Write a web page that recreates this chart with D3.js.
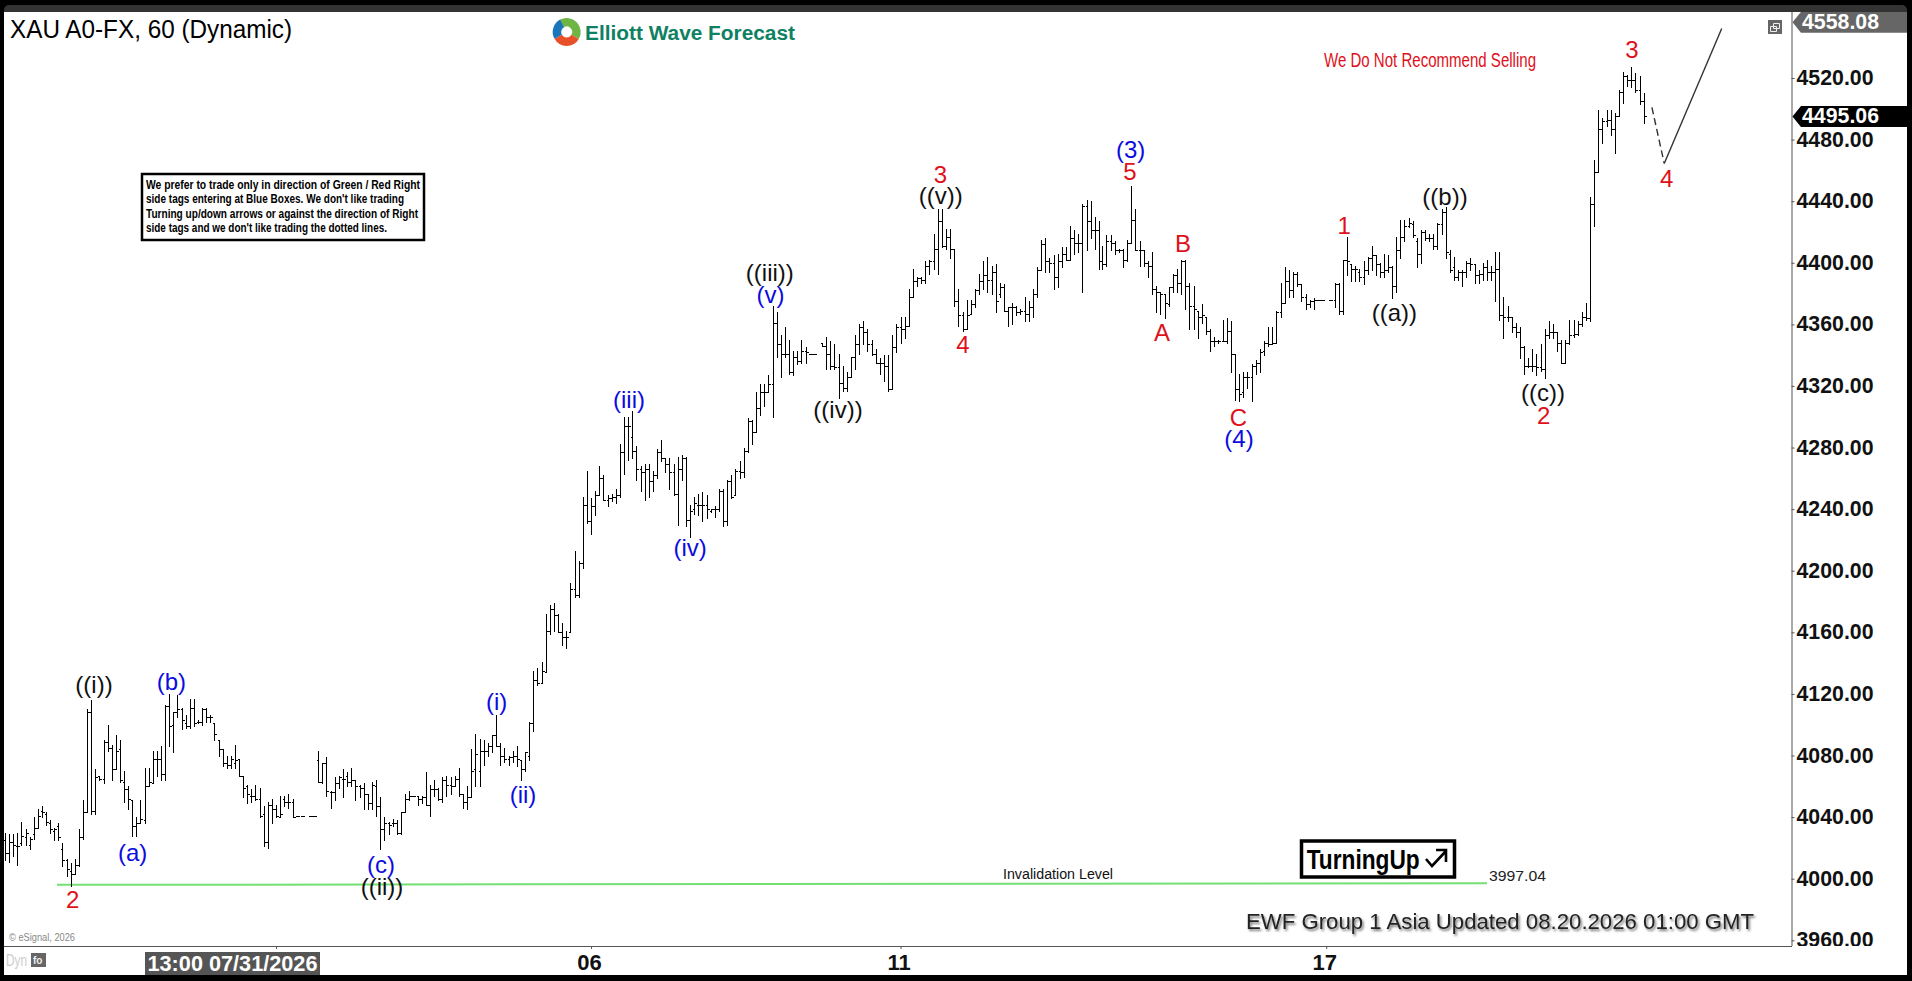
<!DOCTYPE html>
<html><head><meta charset="utf-8">
<script src="https://cdn.jsdelivr.net/npm/d3@7"></script>
<style>html,body{margin:0;padding:0;background:#000;overflow:hidden}svg{display:block}text{font-family:"Liberation Sans",Arial,sans-serif}</style>
</head><body><svg id="c" width="1912" height="981"></svg>
<script>
// hourly OHLC bars [open, high, low, close]; null = no bar printed
const barsJul = [[4025,4030,4012,4017],[4017,4029,4011,4024],[4024,4029,4015,4022],[4021,4030,4009,4021],[4023,4037,4022,4028],[4027,4032,4022,4030],[4022,4027,4019,4026],[4029,4040,4026,4033],[4033,4045,4033,4041],[4044,4047,4040,4043],[4042,4043,4035,4037],[4036,4038,4030,4032],[4031,4033,4025,4032],[4034,4036,4025,4027],[4019,4023,4008,4012],[4012,4013,4002,4006],[4005,4010,3995,4003],[4003,4013,4003,4009],[4009,4032,4008,4027],[4027,4051,4026,4043],[4043,4110,4043,4108],[4108,4116,4042,4044],[4044,4071,4042,4066],[4067,4067,4064,4065],[4065,4090,4062,4089],[4089,4100,4083,4085],[4085,4087,4064,4071],[4071,4093,4071,4083],[4084,4090,4063,4064],[4063,4070,4050,4058],[4058,4060,4045,4052],[4051,4051,4028,4034],[4034,4040,4028,4036],[4036,4051,4037,4039],[4038,4072,4036,4060],[4060,4072,4060,4063],[4062,4083,4062,4078],[4078,4083,4067,4078],[4078,4086,4064,4068],[4068,4113,4064,4112],[4112,4120,4086,4099],[4100,4108,4082,4108],[4108,4119,4105,4110],[4110,4111,4097,4103],[4101,4106,4098,4099],[4099,4117,4098,4111],[4111,4117,4099,4101],[4102,4103,4101,4102],[4102,4111,4100,4110],[4110,4111,4102,4105],[4105,4106,4102,4105],[4101,4101,4090,4094],[4090,4090,4080,4084],[4084,4083,4073,4075],[4075,4080,4072,4074],[4074,4080,4072,4078],[4075,4087,4072,4077],[4078,4078,4067,4067],[4067,4067,4053,4059],[4060,4061,4049,4055],[4054,4058,4050,4054],[4054,4061,4051,4052],[4052,4059,4040,4041],[4042,4047,4021,4024],[4024,4050,4020,4048],[4048,4052,4036,4045],[4045,4048,4040,4041],[4040,4054,4040,4042],[4052,4054,4047,4050],[4050,4055,4046,4050]];
const barsAug1 = [[4050,4052,4040,4040],[4041,4041,4041,4041],[4041,4041,4041,4041],null,[4041,4041,4041,4041],[4041,4041,4041,4041],[4077,4083,4063,4063],[4063,4075,4062,4075],[4075,4079,4054,4057],[4056,4057,4046,4056],[4056,4066,4051,4062],[4062,4067,4059,4066],[4065,4071,4053,4065],[4067,4069,4060,4063],[4063,4072,4060,4064],[4064,4064,4051,4060],[4060,4061,4053,4059],[4059,4062,4045,4055],[4055,4055,4045,4049],[4049,4063,4045,4061],[4060,4064,4041,4047],[4047,4053,4019,4032],[4032,4040,4025,4036],[4036,4037,4029,4035],[4036,4039,4034,4036],[4036,4038,4029,4030],[4030,4043,4029,4043],[4043,4055,4043,4052],[4052,4057,4051,4054],[4054,4054,4054,4054],[4054,4054,4048,4052],[4052,4054,4049,4053],[4053,4069,4048,4048],[4048,4061,4041,4058],[4058,4064,4054,4058],[4058,4059,4051,4052],[4052,4066,4050,4064],[4064,4067,4054,4061],[4061,4066,4055,4060],[4060,4067,4060,4065],[4065,4072,4054,4055],[4055,4055,4046,4050],[4050,4060,4045,4053],[4053,4084,4053,4070],[4071,4094,4060,4081],[4070,4091,4060,4083],[4083,4090,4074,4083],[4083,4088,4080,4086],[4086,4093,4082,4093],[4093,4106,4086,4086],[4086,4088,4074,4080],[4080,4085,4076,4078],[4078,4080,4074,4079],[4079,4083,4076,4080],[4080,4086,4073,4078],[4077,4077,4064,4071],[4071,4082,4070,4082],[4080,4102,4077,4101]];
const barsAug6 = [[4101,4135,4096,4129],[4129,4137,4126,4127],[4127,4141,4127,4135],[4134,4172,4134,4161],[4161,4178,4159,4175],[4175,4179,4161,4171],[4171,4172,4160,4160],[4160,4166,4152,4157],[4157,4161,4150,4157],[4160,4192,4160,4188],[4188,4213,4183,4184],[4184,4206,4183,4205],[4205,4248,4202,4243],[4243,4265,4231,4232],[4232,4247,4224,4242],[4242,4252,4236,4249],[4249,4268,4249,4260],[4260,4262,4246,4246],[4246,4249,4242,4247],[4247,4250,4245,4248],[4248,4253,4244,4249],[4249,4282,4248,4277],[4277,4300,4263,4294],[4294,4300,4272,4294],[4287,4304,4273,4278],[4278,4281,4259,4266],[4266,4268,4252,4264],[4264,4269,4246,4266],[4266,4269,4248,4258],[4258,4265,4252,4262],[4262,4279,4260,4277],[4277,4285,4271,4273],[4273,4273,4264,4269],[4269,4273,4253,4264],[4264,4269,4249,4250],[4250,4274,4230,4266],[4266,4275,4259,4273],[4273,4274,4229,4233],[4233,4243,4222,4239],[4240,4248,4237,4244],[4243,4250,4236,4243],[4243,4251,4232,4243],[4243,4249,4234,4240],[4239,4240,4238,4240],[4240,4242,4235,4240],[4240,4253,4239,4252],[4252,4253,4229,4232],[4232,4259,4230,4258],[4258,4262,4247,4248],[4249,4266,4249,4265],[4265,4271,4260,4264],[4264,4280,4261,4278],[4278,4299,4277,4297],[4297,4298,4282,4290],[4290,4316,4290,4306],[4306,4321,4301,4316],[4316,4321,4307,4316],[4316,4327,4316,4321],[4321,4372,4300,4361],[4361,4368,4339,4347],[4347,4353,4326,4341],[4341,4358,4339,4341],[4341,4350,4328,4329],[4329,4343,4327,4339],[4339,4343,4334,4336],[4336,4350,4335,4343],[4343,4345,4335,4342],[4341,4341,4341,4341],[4341,4341,4341,4341],null];
const barsAug10 = [[4348,4348,4346,4346],[4346,4352,4331,4341],[4341,4349,4331,4333],[4333,4347,4331,4332],[4332,4341,4312,4322],[4322,4333,4317,4319],[4319,4329,4317,4326],[4326,4339,4326,4339],[4339,4353,4331,4347],[4347,4360,4341,4358],[4358,4362,4347,4355],[4355,4357,4343,4347],[4347,4350,4340,4341],[4341,4344,4335,4335],[4335,4338,4328,4335],[4335,4340,4323,4333],[4333,4340,4317,4318],[4318,4353,4318,4345],[4345,4360,4342,4358],[4358,4365,4348,4357],[4357,4365,4351,4359],[4359,4383,4359,4378],[4378,4396,4378,4388],[4388,4391,4385,4390],[4390,4391,4387,4389],[4389,4401,4387,4398],[4398,4402,4393,4401],[4401,4419,4396,4409],[4409,4435,4393,4427],[4427,4435,4410,4411],[4411,4422,4409,4417],[4417,4422,4403,4409],[4409,4409,4372,4375],[4375,4383,4359,4366],[4366,4368,4356,4357],[4357,4376,4357,4366],[4367,4376,4367,4373],[4373,4383,4371,4382],[4382,4393,4380,4388],[4388,4401,4383,4392],[4392,4404,4381,4389],[4389,4398,4380,4394],[4394,4399,4368,4375],[4380,4387,4378,4384],[4384,4386,4369,4369],[4369,4371,4359,4371],[4371,4374,4360,4371],[4371,4372,4366,4368],[4368,4370,4367,4369],[4369,4378,4362,4367],[4367,4375,4362,4371],[4371,4383,4365,4380],[4380,4397,4378,4395],[4395,4415,4396,4412],[4412,4416,4394,4401],[4401,4403,4394,4400],[4400,4405,4383,4391],[4391,4406,4384,4401],[4401,4410,4397,4406],[4406,4410,4402,4402],[4402,4424,4402,4416],[4416,4421,4406,4413],[4413,4419,4407,4413],[4413,4438,4381,4437],[4437,4441,4408,4427],[4427,4440,4416,4421],[4421,4430,4409,4421],[4421,4427,4396,4401]];
const barsAug13 = [[4401,4411,4396,4399],[4399,4418,4398,4414],[4414,4418,4408,4413],[4413,4414,4406,4408],[4408,4409,4407,4408],[4408,4409,4397,4402],[4402,4415,4401,4413],[4413,4450,4413,4428],[4428,4435,4408,4408],[4408,4414,4398,4408],[4408,4408,4398,4400],[4400,4401,4391,4398],[4398,4407,4380,4383],[4383,4385,4368,4381],[4381,4381,4367,4380],[4380,4379,4364,4374],[4373,4384,4372,4384],[4384,4393,4381,4392],[4392,4396,4381,4387],[4387,4402,4380,4401],[4401,4402,4370,4385],[4385,4387,4357,4372],[4372,4385,4357,4370],[4369,4368,4351,4365],[4365,4373,4361,4366],[4365,4363,4354,4356],[4356,4357,4343,4349],[4349,4352,4346,4349],[4349,4350,4348,4349],[4349,4363,4349,4349],[4349,4364,4348,4356],[4356,4362,4329,4341],[4341,4341,4311,4318],[4318,4328,4310,4315],[4316,4329,4313,4326],[4326,4329,4319,4326],[4326,4334,4310,4333],[4333,4337,4328,4335],[4335,4344,4329,4342],[4343,4349,4340,4348],[4348,4358,4346,4347],[4347,4358,4348,4348],[4348,4369,4348,4368],[4368,4387,4365,4374],[4374,4397,4374,4388],[4388,4395,4378,4382],[4382,4394,4378,4393],[4393,4394,4385,4386],[4386,4383,4375,4378],[4378,4380,4370,4373],[4373,4376,4371,4375],[4375,4377,4370,4376],[4376,4376,4376,4376],[4376,4376,4376,4376],null,[4376,4376,4376,4376],[4376,4387,4371,4386],[4386,4387,4367,4369],[4369,4402,4367,4402],[4402,4417,4392,4401],[4399,4397,4388,4396],[4396,4398,4388,4396],[4394,4396,4388,4391],[4391,4401,4386,4395],[4395,4404,4393,4403],[4403,4411,4395,4405],[4405,4405,4392,4399]];
const barsAug18 = [[4399,4400,4391,4394],[4394,4406,4391,4395],[4395,4405,4394,4397],[4397,4398,4377,4385],[4385,4417,4381,4408],[4408,4428,4403,4417],[4417,4428,4414,4424],[4424,4429,4423,4426],[4425,4427,4417,4418],[4414,4416,4397,4406],[4406,4421,4400,4420],[4420,4421,4415,4416],[4416,4419,4414,4416],[4416,4419,4409,4411],[4411,4426,4409,4425],[4425,4435,4419,4433],[4433,4436,4403,4407],[4406,4408,4394,4395],[4397,4404,4389,4391],[4391,4395,4389,4394],[4394,4395,4385,4394],[4394,4401,4391,4400],[4400,4403,4395,4399],[4399,4399,4387,4392],[4392,4395,4387,4393],[4393,4400,4389,4397],[4397,4402,4389,4394],[4394,4398,4389,4394],[4394,4407,4375,4396],[4396,4407,4363,4366],[4366,4378,4351,4365],[4365,4372,4362,4365],[4365,4365,4355,4358],[4358,4361,4352,4355],[4355,4358,4338,4345],[4345,4346,4328,4333],[4333,4338,4332,4333],[4333,4344,4330,4333],[4333,4341,4327,4332],[4332,4347,4330,4331],[4331,4357,4325,4353],[4353,4362,4351,4355],[4355,4360,4351,4355],[4355,4355,4343,4348],[4348,4350,4335,4335],[4335,4350,4335,4348],[4348,4363,4347,4353],[4353,4363,4352,4354],[4354,4362,4353,4360],[4360,4368,4359,4365],[4365,4374,4363,4364],[4364,4443,4362,4438],[4438,4467,4424,4459],[4459,4499,4459,4487],[4487,4494,4478,4492],[4492,4499,4489,4493],[4493,4499,4483,4487],[4487,4497,4471,4495],[4495,4512,4495,4511],[4511,4524,4504,4521],[4521,4522,4515,4519],[4519,4527,4514,4519],[4519,4523,4511,4512],[4512,4521,4503,4505],[4505,4510,4491,4495.06]];
const priceTicks = [4520,4480,4440,4400,4360,4320,4280,4240,4200,4160,4120,4080,4040,4000,3960];
const dateTickLabels = ["","06","11","17"];
const dateTickBars = [66,142,217,320];
const invalidationLevel = 3997.04;
const lastPrice = 4495.06;
const topPrice = 4558.08;
const forecastDash = [[2,4500.9],[5,4464.5]];
const forecastLine = [[5,4464.5],[19,4552.2]];
const waveLabels = ["((i))","2","(a)","(b)","(c)","((ii))","(i)","(ii)","(iii)","((iii))","(v)","(iv)","((iv))","3","((v))","4","(3)","5","A","B","C","(4)","1","((a))","((b))","((c))","2","3","4"];
const waveKinds = ["k","r","b","b","b","k","b","b","b","k","b","b","k","r","k","r","b","r","r","r","r","b","r","k","k","k","r","r","r"];
const noteLines = ["We prefer to trade only in direction of Green / Red Right","side tags entering at Blue Boxes. We don't like trading","Turning up/down arrows or against the direction of Right","side tags and we don't like trading the dotted lines."];

// ---- layout ----
const labelSpots = [[94,684],[72.6,899.7],[132.7,852],[171.4,681.7],[381,864],[382,886],[496.7,701.7],[523,794.7],[629,399],[769.8,272],[770.6,294],[690.2,547.3],[838,409.7],[940.4,174.7],[940.8,195],[962.9,344],[1130.6,149.7],[1130,171.7],[1162,332.3],[1182.9,243],[1238.4,417],[1239,438.3],[1344.2,225.7],[1394.4,312.3],[1445,196.3],[1543,392.3],[1543.8,415],[1632,49],[1666.7,178]];
const kindColor = {k:"#111",b:"#0c0ce0",r:"#e0101a"};
const sections = [barsJul,barsAug1,barsAug6,barsAug10,barsAug13,barsAug18];
const sectionPx = [[5,288.3],[293.3,529.3],[533.3,817.9],[822,1099],[1102.3,1376],[1379.7,1643.7]];
const bars = sections.flat();
const dom=[],rng=[]; let n=0;
sections.forEach((s,i)=>{dom.push(n,n+s.length-1);rng.push(...sectionPx[i]);n+=s.length;});
const x = d3.scaleLinear().domain(dom).range(rng);
const y = d3.scaleLinear().domain([4000,4520]).range([878.7,78]);
const svg = d3.select("#c");
const defs = svg.append("defs");
defs.append("clipPath").attr("id","axisClip").append("rect").attr("x",1792).attr("y",12).attr("width",116).attr("height",934);
const sh = defs.append("filter").attr("id","shadow").attr("x","-5%").attr("y","-30%").attr("width","110%").attr("height","170%");
sh.append("feDropShadow").attr("dx",1.5).attr("dy",2).attr("stdDeviation",1).attr("flood-color","#555").attr("flood-opacity",0.8);

// frame
svg.append("rect").attr("width",1912).attr("height",981).attr("fill","#000");
svg.append("rect").attr("x",4).attr("y",5).attr("width",1903).attr("height",970).attr("rx",5).attr("fill","#333");
svg.append("rect").attr("x",4).attr("y",12).attr("width",1903).attr("height",963).attr("fill","#fff");

// axes
const gx = svg.append("g").attr("transform","translate(0,946)")
  .call(d3.axisBottom(x).tickValues(dateTickBars).tickSize(3).tickPadding(2).tickFormat((d,i)=>dateTickLabels[i]));
gx.select(".domain").attr("d","M4,0.5H1792").attr("stroke","#555");
gx.selectAll(".tick line").attr("stroke","#555");
gx.selectAll(".tick text").attr("y",null).attr("dy",null).attr("transform","translate(-2,16)").attr("dominant-baseline","central")
  .attr("font-size",22).attr("font-weight","bold").attr("fill","#111").style("font-family",'"Liberation Sans"');
const gy = svg.append("g").attr("transform","translate(1791.5,0)").attr("clip-path","url(#axisClipY)");
defs.append("clipPath").attr("id","axisClipY").append("rect").attr("x",-1).attr("y",12).attr("width",120).attr("height",934);
gy.call(d3.axisRight(y).tickValues(priceTicks).tickSize(3).tickPadding(2).tickFormat(d3.format(".2f")));
gy.select(".domain").attr("d","M0.5,12V946").attr("stroke","#555");
gy.selectAll(".tick line").attr("stroke","#555");
gy.selectAll(".tick text").attr("x",5).attr("dy",null).attr("transform","translate(0,-1)").attr("dominant-baseline","central").attr("font-size",22).attr("font-weight","bold")
  .attr("textLength",77).attr("lengthAdjust","spacingAndGlyphs")
  .attr("fill","#111").style("font-family",'"Liberation Sans"');

// invalidation line
svg.append("path").attr("d",d3.line()([[57,y(invalidationLevel)+1.6],[1487,y(invalidationLevel)]]))
  .attr("stroke","#74e074").attr("stroke-width",2).attr("fill","none");

// OHLC bars
svg.append("g").attr("stroke","#000").attr("stroke-width",1).attr("fill","none").attr("shape-rendering","crispEdges")
 .selectAll("path").data(bars.map((b,i)=>({b,i})).filter(d=>d.b)).join("path")
 .attr("d",d=>{const [o,h,l,c]=d.b,p=d3.path(),X=Math.round(x(d.i))+.5;
   const top=Math.min(y(h),y(o),y(c)),bot=Math.max(y(l),y(o),y(c));
   p.moveTo(X,Math.round(top));p.lineTo(X,Math.round(bot)+1);
   const yo=Math.round(y(o))+.5,yc=Math.round(y(c))+.5;
   p.moveTo(X-2,yo);p.lineTo(X,yo);p.moveTo(X,yc);p.lineTo(X+2,yc);return p.toString();});

// forecast path
const fx = ([k,v])=>[x(bars.length-1)+k*4.107,y(v)];
svg.append("path").attr("d",d3.line()(forecastDash.map(fx))).attr("stroke","#333").attr("stroke-width",1.4).attr("stroke-dasharray","7 4").attr("fill","none");
svg.append("path").attr("d",d3.line()(forecastLine.map(fx))).attr("stroke","#333").attr("stroke-width",1.4).attr("fill","none");

// wave labels
svg.append("g").selectAll("text").data(waveLabels).join("text")
 .attr("x",(d,i)=>labelSpots[i][0]).attr("y",(d,i)=>labelSpots[i][1]).attr("text-anchor","middle").attr("dominant-baseline","central")
 .attr("font-size",24).attr("fill",(d,i)=>kindColor[waveKinds[i]]).text(d=>d);

const T=(s,xx,yy,size,fill,opt={})=>{const t=svg.append("text").attr("x",xx).attr("y",yy).attr("font-size",size).attr("fill",fill).attr("dominant-baseline","central").text(s);
 if(opt.w)t.attr("textLength",opt.w).attr("lengthAdjust","spacingAndGlyphs"); if(opt.bold)t.attr("font-weight","bold"); if(opt.anchor)t.attr("text-anchor",opt.anchor); if(opt.filter)t.attr("filter",opt.filter); return t;};

T("XAU A0-FX, 60 (Dynamic)",10,29,25,"#000",{w:282});

// logo
const arc=d3.arc().innerRadius(5.5).outerRadius(14);
[["#6fb544",-0.5,2.1],["#e8502a",2.1,4.2],["#1b75bb",4.2,5.8]].forEach(([c,a,b])=>{
 svg.append("path").attr("transform","translate(566.7,32)").attr("d",arc({startAngle:a,endAngle:b})).attr("fill",c);});
T("Elliott Wave Forecast",585,33,20,"#0f8163",{bold:true,w:210});

// note box
svg.append("rect").attr("x",142).attr("y",174).attr("width",282).attr("height",66).attr("fill","#fff").attr("stroke","#000").attr("stroke-width",2.5);
noteLines.forEach((s,i)=>T(s,146,184+i*14.6,13,"#000",{bold:true,w:[274,258,272,241][i]}));

T("We Do Not Recommend Selling",1324,60,20,"#e0101a",{w:212});
T("Invalidation Level",1003,873.5,15.5,"#111",{w:110});
T("3997.04",1489,875,15.5,"#222",{w:57});
T("EWF Group 1 Asia Updated 08.20.2026 01:00 GMT",1246,921,22,"#222",{w:508,filter:"url(#shadow)"});
T("© eSignal, 2026",9,937,11,"#888",{w:66});
T("Dyn",6,960,16,"#ccc",{w:21});

// lock icon
svg.append("rect").attr("x",31).attr("y",953).attr("width",15).attr("height",14).attr("fill","#666");
T("fo",33,960.5,10,"#eee",{bold:true});

// date crosshair tag
svg.append("rect").attr("x",145).attr("y",952).attr("width",175).attr("height",23).attr("fill","#555");
T("13:00 07/31/2026",232.5,963,22,"#fff",{bold:true,anchor:"middle",w:170}).attr("x",147.5);
svg.selectAll("text").filter(function(){return this.textContent==="13:00 07/31/2026";}).attr("text-anchor",null);

// Turning up box
svg.append("rect").attr("x",1301.5).attr("y",841).attr("width",153).attr("height",36).attr("fill","#fff").attr("stroke","#000").attr("stroke-width",3.5);
T("TurningUp",1306.7,859,28,"#000",{bold:true,w:113});
svg.append("path").attr("d","M1426,859L1432,866L1446,851M1436,850H1446V862").attr("fill","none").attr("stroke","#000").attr("stroke-width",2.6);

// window icon
svg.append("rect").attr("x",1768).attr("y",20).attr("width",14).attr("height",14).attr("fill","#666");
svg.append("path").attr("d","M1773.5,23.5h6v5h-6zM1770.5,26.5h6v5h-6z").attr("fill","none").attr("stroke","#eee").attr("stroke-width",1);

// price tags
const tag=(v,fill,dy)=>{const c=y(v)+dy;
 svg.append("g").attr("clip-path","url(#axisClip)").append("path")
  .attr("d",`M1792.5,${c}L1801,${c-10.5}H1907V${c+10.5}H1801Z`).attr("fill",fill);
 T(d3.format(".2f")(v),1802,c-0.5,22,"#fff",{bold:true,w:77});};
tag(topPrice,"#666",3);
tag(lastPrice,"#000",0);
</script></body></html>
